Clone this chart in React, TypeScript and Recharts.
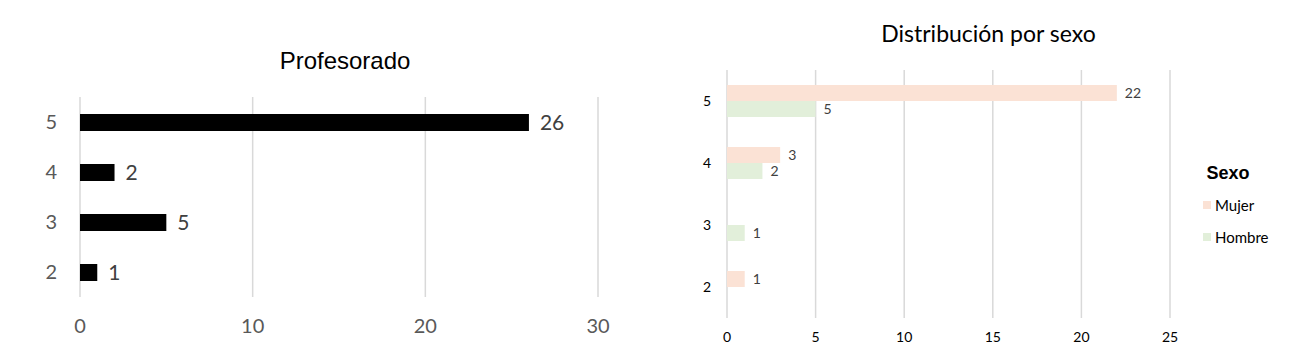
import { BarChart, Bar, XAxis, YAxis, CartesianGrid, LabelList } from "recharts";

const niveles = ["5", "4", "3", "2"];
const profesorado = [26, 2, 5, 1];
const mujeres = [22, 3, 0, 1];
const hombres = [5, 2, 1, 0];
const ticksProf = [0, 10, 20, 30];
const ticksSexo = [0, 5, 10, 15, 20, 25];

const colorMujer = "#fbe2d5";
const colorHombre = "#e2efda";
const calibri = "Lato, 'Open Sans', sans-serif";

const dataProf = niveles.map((n, i) => ({ nivel: n, total: profesorado[i] }));
const dataSexo = niveles.map((n, i) => ({
  nivel: n,
  Mujer: mujeres[i],
  Hombre: hombres[i],
}));

const hideZero = (v: unknown) => (v ? String(v) : "");

function LegendItem({ color, label }: { color: string; label: string }) {
  return (
    <div style={{ display: "flex", alignItems: "center", height: 32 }}>
      <span style={{ width: 8, height: 8, background: color, marginRight: 4 }} />
      <span style={{ fontFamily: calibri, fontSize: 15, color: "#000" }}>{label}</span>
    </div>
  );
}

export default function App() {
  return (
    <div
      style={{
        position: "absolute",
        left: 0,
        top: 0,
        width: 1297,
        height: 362,
        background: "#fff",
        overflow: "hidden",
      }}
    >
      {/* Profesorado */}
      <div
        style={{
          position: "absolute",
          left: 0,
          top: 47,
          width: 690,
          textAlign: "center",
          fontFamily: "'Liberation Sans', Arial, sans-serif",
          fontSize: 24,
          color: "#000",
        }}
      >
        Profesorado
      </div>
      <div style={{ position: "absolute", left: 0, top: 0 }}>
        <BarChart
          width={640}
          height={362}
          data={dataProf}
          layout="vertical"
          margin={{ top: 97, right: 42, bottom: 25, left: 40 }}
          barSize={17}
        >
          <CartesianGrid horizontal={false} stroke="#d9d9d9" strokeWidth={1.5} />
          <XAxis
            type="number"
            domain={[0, 30]}
            ticks={ticksProf}
            axisLine={false}
            tickLine={false}
            tickSize={0}
            tickMargin={22}
            height={40}
            tick={{ fill: "#595959", fontSize: 20, fontFamily: calibri }}
          />
          <YAxis
            type="category"
            dataKey="nivel"
            axisLine={false}
            tickLine={false}
            tickSize={0}
            tickMargin={23}
            width={40}
            tick={{ fill: "#595959", fontSize: 20, fontFamily: calibri }}
          />
          <Bar dataKey="total" fill="#000" isAnimationActive={false}>
            <LabelList
              dataKey="total"
              position="right"
              offset={11}
              fill="#404040"
              fontSize={21}
              fontFamily={calibri}
            />
          </Bar>
        </BarChart>
      </div>

      {/* Distribución por sexo */}
      <div
        style={{
          position: "absolute",
          left: 680,
          top: 19,
          width: 617,
          textAlign: "center",
          fontFamily: calibri,
          fontSize: 23,
          color: "#000",
        }}
      >
        Distribución por sexo
      </div>
      <div style={{ position: "absolute", left: 680, top: 0 }}>
        <BarChart
          width={617}
          height={362}
          data={dataSexo}
          layout="vertical"
          margin={{ top: 70, right: 127, bottom: 14, left: 17 }}
          barSize={16}
          barGap={0}
        >
          <CartesianGrid horizontal={false} stroke="#d9d9d9" strokeWidth={1.5} />
          <XAxis
            type="number"
            domain={[0, 25]}
            ticks={ticksSexo}
            axisLine={false}
            tickLine={false}
            tickSize={0}
            tickMargin={14}
            height={30}
            tick={{ fill: "#000", fontSize: 14, fontFamily: calibri }}
          />
          <YAxis
            type="category"
            dataKey="nivel"
            axisLine={false}
            tickLine={false}
            tickSize={0}
            tickMargin={16}
            width={30}
            tick={{ fill: "#000", fontSize: 14, fontFamily: calibri }}
          />
          <Bar dataKey="Mujer" fill={colorMujer} isAnimationActive={false}>
            <LabelList
              dataKey="Mujer"
              position="right"
              offset={8}
              fill="#404040"
              fontSize={14}
              fontFamily={calibri}
              formatter={hideZero}
            />
          </Bar>
          <Bar dataKey="Hombre" fill={colorHombre} isAnimationActive={false}>
            <LabelList
              dataKey="Hombre"
              position="right"
              offset={8}
              fill="#404040"
              fontSize={14}
              fontFamily={calibri}
              formatter={hideZero}
            />
          </Bar>
        </BarChart>
      </div>

      <div style={{ position: "absolute", left: 1203, top: 163 }}>
        <div
          style={{
            fontFamily: "'Liberation Sans', Arial, sans-serif",
            fontWeight: "bold",
            fontSize: 18,
            color: "#000",
            marginLeft: -3,
            width: 56,
            textAlign: "center",
            marginBottom: 5,
          }}
        >
          Sexo
        </div>
        <LegendItem color={colorMujer} label="Mujer" />
        <LegendItem color={colorHombre} label="Hombre" />
      </div>
    </div>
  );
}
